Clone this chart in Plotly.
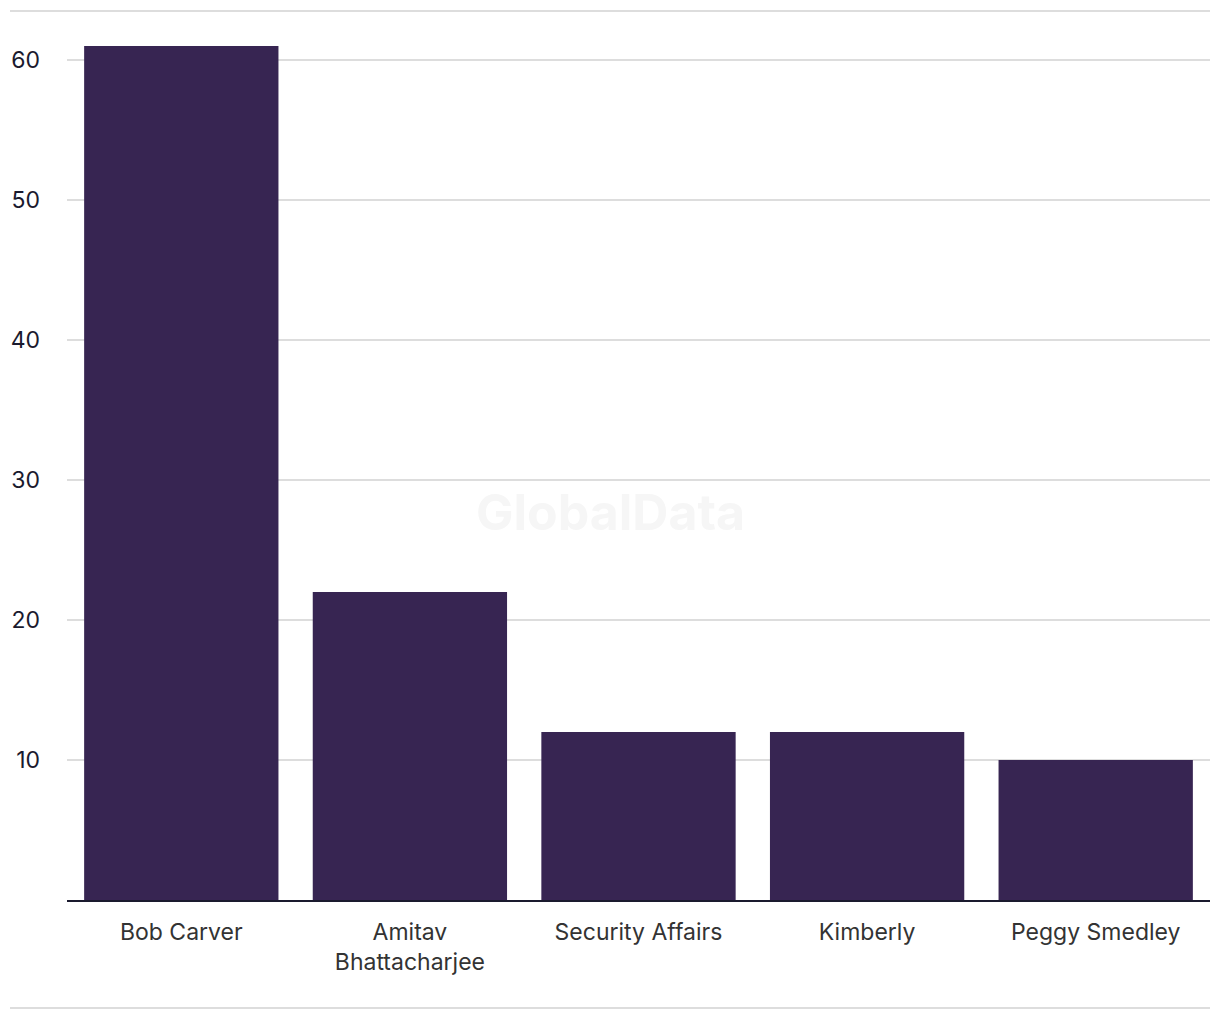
import plotly.graph_objects as go

categories = ["Bob Carver", "Amitav<br>Bhattacharjee", "Security Affairs", "Kimberly", "Peggy Smedley"]
values = [61, 22, 12, 12, 10]
tick_vals = [10, 20, 30, 40, 50, 60]
tick_text = ["10", "20", "30", "40", "50", "60"]

OFF = 8  # page body margin
W, H = 1212, 1012
ml, mr, mt = 59, 10, 3
ph = 889
mb = H - mt - ph
pw = W - ml - mr

fig = go.Figure(go.Bar(
    x=categories, y=values,
    marker=dict(color="#372552", line=dict(width=0)),
    hoverinfo="x+y",
))

def px_x(x):
    return (x - OFF - ml) / pw

def px_y(y):
    return (H - mb - (y - OFF)) / ph

fig.update_layout(
    width=W, height=H,
    margin=dict(l=ml, r=mr, t=mt, b=mb),
    paper_bgcolor="white", plot_bgcolor="white",
    bargap=0.15,
    showlegend=False,
    font=dict(family="Inter, Roboto, sans-serif", size=23, color="#333333"),
    xaxis=dict(
        showgrid=False, showline=True, linecolor="#1a1a2e", linewidth=2,
        ticks="", tickfont=dict(size=23, color="#333333"),
        ticklabelstandoff=10,
    ),
    yaxis=dict(
        range=[0, 63.5], tickvals=tick_vals, ticktext=tick_text,
        showgrid=True, gridcolor="#dddddd", gridwidth=2,
        zeroline=False, showline=False, ticks="",
        tickfont=dict(size=23, color="#1a1a2e"),
        ticklabelstandoff=26,
    ),
    shapes=[
        dict(type="line", xref="paper", yref="paper",
             x0=px_x(10), x1=px_x(1210), y0=px_y(11), y1=px_y(11),
             line=dict(color="#dddddd", width=2)),
        dict(type="line", xref="paper", yref="paper",
             x0=px_x(10), x1=px_x(1210), y0=px_y(1008), y1=px_y(1008),
             line=dict(color="#dddddd", width=2)),
    ],
    annotations=[
        dict(text="<b>GlobalData</b>", xref="paper", yref="paper",
             x=px_x(610), y=px_y(512), showarrow=False,
             font=dict(size=50, color="#f6f6f6", family="Inter, Roboto, sans-serif")),
    ],
)

fig.write_html("out.html")
